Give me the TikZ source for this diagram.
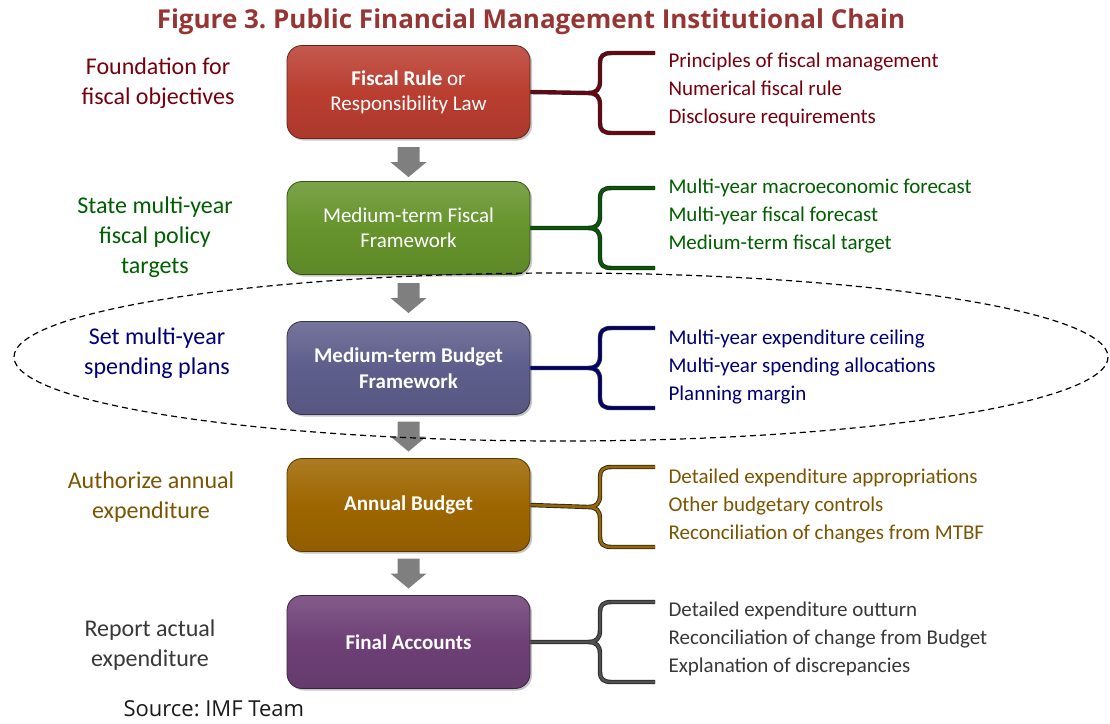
\documentclass[tikz,border=0pt]{standalone}
\usepackage{fontspec}
\setmainfont{Carlito}
\newfontfamily\headfont{Open Sans}
\usetikzlibrary{shadows}
\frenchspacing

% box fills
\definecolor{redbox}{RGB}{186,62,48}
\definecolor{greenbox}{RGB}{102,148,44}
\definecolor{bluebox}{RGB}{94,94,140}
\definecolor{goldbox}{RGB}{158,102,0}
\definecolor{purplebox}{RGB}{110,64,118}
% text and brace colours
\definecolor{tred}{RGB}{118,0,14}
\definecolor{tgreen}{RGB}{0,94,0}
\definecolor{tblue}{RGB}{0,0,118}
\definecolor{tgold}{RGB}{122,84,0}
\definecolor{tgray}{RGB}{56,56,56}
\definecolor{bgold}{RGB}{150,104,0}
\definecolor{bgray}{RGB}{80,80,80}
\definecolor{titlered}{RGB}{150,54,52}
\definecolor{arrowgray}{RGB}{127,127,127}

\tikzset{
  stage/.style={rounded corners=15pt, minimum width=243pt, minimum height=93pt,
    draw=#1!55!black, line width=0.8pt, top color=#1!86!white, bottom color=#1!92!black,
    middle color=#1, text=white, align=center,
    font=\fontsize{21}{25}\selectfont,
    drop shadow={shadow xshift=2pt, shadow yshift=-2pt, opacity=.45}},
  goal/.style={align=center, font=\fontsize{24}{30}\selectfont, text=#1},
  items/.style={anchor=west, align=left, font=\fontsize{21}{28}\selectfont, text=#1},
  bracebase/.style={black!85, line width=4.4pt, line join=round},
  bracetop/.style={#1, line width=2.6pt, line join=round},
  downarrow/.pic={
    \fill[arrowgray] (-11,-15) -- (11,-15) -- (11,0) -- (18,0) -- (0,15)
      -- (-18,0) -- (-11,0) -- cycle;}
}

% brace from a box: #1 box name, #2 centre y, #3 colour
\newcommand\stagebrace[3]{%
  \foreach \layer/\sty in {1/bracebase, 2/bracetop}{%
    \draw[\sty=#3] (#1.east) -- (588,#2)
      .. controls (596,#2) and (600,#2-3) .. (600,#2-12) -- (600,#2-30)
      .. controls (600,#2-37) and (603,#2-40) .. (612,#2-40) -- (655,#2-40);
    \draw[\sty=#3] (588,#2)
      .. controls (596,#2) and (600,#2+3) .. (600,#2+12) -- (600,#2+30)
      .. controls (600,#2+37) and (603,#2+40) .. (612,#2+40) -- (655,#2+40);
  }%
}

\begin{document}
\begin{tikzpicture}[x=1pt,y=-1pt]
\useasboundingbox (0,0) rectangle (1110,723);

% title
\node[font=\headfont\bfseries\fontsize{26}{30}\selectfont, text=titlered] (title)
  at (531,22) {Figure 3. Public Financial Management Institutional Chain};

% the chain of stages
\node[stage=redbox] (b1) at (408.5,92) {\textbf{Fiscal Rule} or\\Responsibility Law};
\node[stage=greenbox] (b2) at (408.5,228) {Medium-term Fiscal\\Framework};
\node[stage=bluebox, font=\bfseries\fontsize{21}{26}\selectfont] (b3) at (408.5,368) {Medium-term Budget\\Framework};
\node[stage=goldbox, font=\bfseries\fontsize{21}{25}\selectfont] (b4) at (408.5,505) {Annual Budget};
\node[stage=purplebox, font=\bfseries\fontsize{21}{25}\selectfont] (b5) at (408.5,642) {Final Accounts};

% arrows between stages
\path (b1.south) -- (b2.north) pic[pos=0.55] {downarrow};
\path (b2.south) -- (b3.north) pic[pos=0.5] {downarrow};
\path (b3.south) -- (b4.north) pic[pos=0.5] {downarrow};
\path (b4.south) -- (b5.north) pic[pos=0.5] {downarrow};

% purposes
\node[goal=tred] (g1) at (158,83) {Foundation for\\fiscal objectives};
\node[goal=tgreen] (g2) at (155,237) {State multi-year\\fiscal policy\\targets};
\node[goal=tblue] (g3) at (157,353) {Set multi-year\\spending plans};
\node[goal=tgold] (g4) at (151,497) {Authorize annual\\expenditure};
\node[goal=tgray] (g5) at (150,645) {Report actual\\expenditure};

% braces
\stagebrace{b1}{93}{tred}
\stagebrace{b2}{228}{tgreen}
\stagebrace{b3}{368}{tblue}
\stagebrace{b4}{507}{bgold}
\stagebrace{b5}{642}{bgray}

% contents of each stage
\node[items=tred] (i1) at (665,90) {Principles of fiscal management\\Numerical fiscal rule\\Disclosure requirements};
\node[items=tgreen] (i2) at (665,216) {Multi-year macroeconomic forecast\\Multi-year fiscal forecast\\Medium-term fiscal target};
\node[items=tblue] (i3) at (665,367) {Multi-year expenditure ceiling\\Multi-year spending allocations\\Planning margin};
\node[items=tgold] (i4) at (665,506) {Detailed expenditure appropriations\\Other budgetary controls\\Reconciliation of changes from MTBF};
\node[items=tgray] (i5) at (665,639) {Detailed expenditure outturn\\Reconciliation of change from Budget\\Explanation of discrepancies};

% medium-term budget framework outline
\draw[black, line width=1.2pt, dash pattern=on 6pt off 4pt]
  (561,357) ellipse [x radius=547, y radius=84];

% source
\node[anchor=west, font=\headfont\fontsize{22}{24}\selectfont, text=black!90] (src)
  at (120,709) {Source: IMF Team};
\end{tikzpicture}
\end{document}
